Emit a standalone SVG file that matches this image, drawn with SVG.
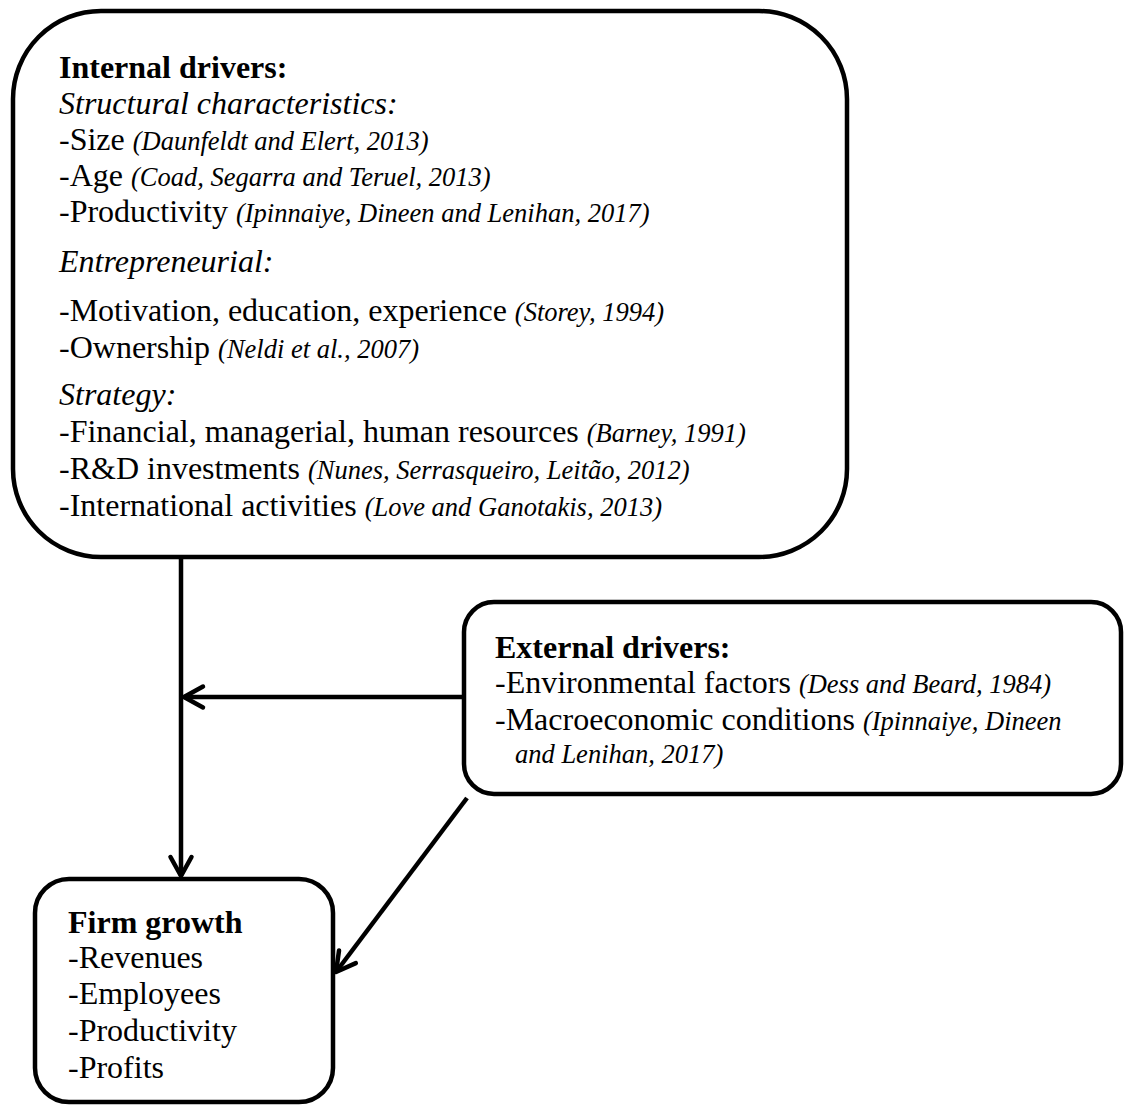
<svg xmlns="http://www.w3.org/2000/svg" width="1126" height="1109" viewBox="0 0 1126 1109">
<style>
  .box { fill: #fff; stroke: #000; stroke-width: 4.5; }
  .conn { fill: none; stroke: #000; stroke-width: 4.5; }
  text { font-family: "Liberation Serif", "Times New Roman", serif; font-size: 32px; fill: #000; }
  .b { font-weight: bold; }
  .i { font-style: italic; }
  .cite { font-style: italic; font-size: 26.5px; }
</style>
<defs>
  <marker id="arr" viewBox="-25 -15 30 30" refX="0" refY="0" markerWidth="30" markerHeight="30" markerUnits="userSpaceOnUse" orient="auto" overflow="visible">
    <path d="M -19 -10.5 L 0 0 L -19 10.5" fill="none" stroke="#000" stroke-width="4.5" stroke-linecap="round" stroke-linejoin="round"/>
  </marker>
</defs>
<rect width="1126" height="1109" fill="#fff"/>

<g id="connectors">
  <line class="conn" x1="181" y1="557" x2="181" y2="876" marker-end="url(#arr)"/>
  <line class="conn" x1="464" y1="697" x2="184" y2="697" marker-end="url(#arr)"/>
  <line class="conn" x1="467" y1="798" x2="336" y2="972" marker-end="url(#arr)"/>
</g>

<g id="internal-drivers">
  <rect class="box" x="13" y="11" width="834" height="546" rx="88" ry="88"/>
  <text x="59" y="78" class="b">Internal drivers:</text>
  <text x="59" y="114" class="i">Structural characteristics:</text>
  <text x="59" y="150">-Size <tspan class="cite">(Daunfeldt and Elert, 2013)</tspan></text>
  <text x="59" y="186">-Age <tspan class="cite">(Coad, Segarra and Teruel, 2013)</tspan></text>
  <text x="59" y="222">-Productivity <tspan class="cite">(Ipinnaiye, Dineen and Lenihan, 2017)</tspan></text>
  <text x="59" y="272" class="i">Entrepreneurial:</text>
  <text x="59" y="321">-Motivation, education, experience <tspan class="cite">(Storey, 1994)</tspan></text>
  <text x="59" y="358">-Ownership <tspan class="cite">(Neldi et al., 2007)</tspan></text>
  <text x="59" y="405" class="i">Strategy:</text>
  <text x="59" y="442">-Financial, managerial, human resources <tspan class="cite">(Barney, 1991)</tspan></text>
  <text x="59" y="479">-R&amp;D investments <tspan class="cite">(Nunes, Serrasqueiro, Leitão, 2012)</tspan></text>
  <text x="59" y="516">-International activities <tspan class="cite">(Love and Ganotakis, 2013)</tspan></text>
</g>

<g id="external-drivers">
  <rect class="box" x="464" y="602" width="657" height="192" rx="30" ry="30"/>
  <text x="495" y="658" class="b">External drivers:</text>
  <text x="495" y="693">-Environmental factors <tspan class="cite">(Dess and Beard, 1984)</tspan></text>
  <text x="495" y="730">-Macroeconomic conditions <tspan class="cite">(Ipinnaiye, Dineen</tspan></text>
  <text x="515" y="763" class="cite">and Lenihan, 2017)</text>
</g>

<g id="firm-growth">
  <rect class="box" x="35" y="879" width="298" height="223" rx="34" ry="34"/>
  <text x="68" y="933" class="b">Firm growth</text>
  <text x="68" y="968">-Revenues</text>
  <text x="68" y="1004">-Employees</text>
  <text x="68" y="1041">-Productivity</text>
  <text x="68" y="1078">-Profits</text>
</g>
</svg>
